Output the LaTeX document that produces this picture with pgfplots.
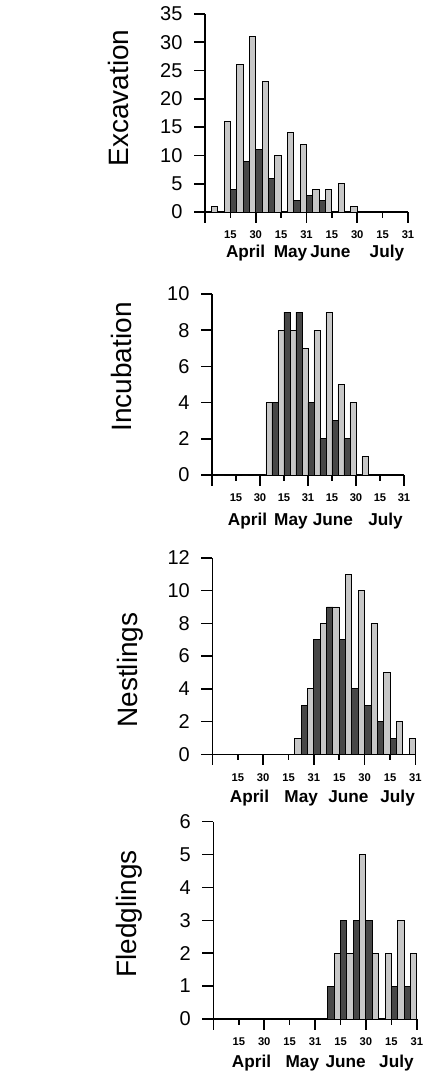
\documentclass[border=0pt]{standalone}
\usepackage{fontspec}
\setmainfont{Liberation Sans}
\usepackage{pgfplots}
\usepackage{pgfplotstable}
\pgfplotsset{compat=1.18}

% k = week slot (two per half month), L = light bars, D = dark bars
\pgfplotstableread{
k L D
0 1 0
1 16 4
2 26 9
3 31 11
4 23 6
5 10 0
6 14 2
7 12 3
8 4 2
9 4 0
10 5 0
11 1 0
}\excav

\pgfplotstableread{
k L D
0 0 0
1 0 0
2 0 0
3 0 0
4 4 4
5 8 9
6 8 9
7 7 4
8 8 2
9 9 3
10 5 2
11 4 0
12 1 0
}\incub

\pgfplotstableread{
k L D
0 0 0
1 0 0
2 0 0
3 0 0
4 0 0
5 0 0
6 1 3
7 4 7
8 8 9
9 9 7
10 11 4
11 10 3
12 8 2
13 5 1
14 2 0
15 1 nan
}\nestl

\pgfplotstableread{
k L D
0 0 0
1 0 0
2 0 0
3 0 0
4 0 0
5 0 0
6 0 0
7 0 0
8 0 1
9 2 3
10 2 3
11 5 3
12 2 0
13 2 1
14 3 1
15 2 nan
}\fledg

\pgfplotsset{
  panel/.style={
    scale only axis, clip=false,
    xmin=0, xmax=8, ymin=0,
    axis lines*=left,
    axis line style={line width=0.9pt},
    tick style={black, line width=0.8pt},
    tick align=outside,
    major tick length=2.75pt,
    ytick style={/pgfplots/major tick length=5.5pt},
    xtick={0,...,8},
    xticklabels={,15,30,15,31,15,30,15,31},
    extra x ticks={0,2,4,6,8},
    extra x tick labels={},
    extra x tick style={/pgfplots/major tick length=5.25pt},
    xticklabel style={font=\bfseries\fontsize{5.6}{6}\selectfont, yshift=-3.2pt},
    yticklabel style={font=\fontsize{10}{12}\selectfont, xshift=-5pt},
    /pgf/number format/assume math mode=true,
    ybar, bar width=0.25,
  },
  lightbar/.style={fill=black!22, draw=black, line width=0.45pt, bar shift=0pt},
  darkbar/.style={fill=black!72, draw=black, line width=0.45pt, bar shift=0pt},
}
\tikzset{mon/.style={anchor=base, font=\bfseries\fontsize{8.6}{10}\selectfont}}

% #1 = drop below the x axis, #2-#5 = centres of the month names
\newcommand\months[5]{%
  \node[mon, yshift=-#1] at (axis cs:#2,0) {April};
  \node[mon, yshift=-#1] at (axis cs:#3,0) {May};
  \node[mon, yshift=-#1] at (axis cs:#4,0) {June};
  \node[mon, yshift=-#1] at (axis cs:#5,0) {July};
}

\begin{document}
\begin{tikzpicture}
\path[use as bounding box] (0,0) rectangle (211.5pt,-536pt);

\begin{axis}[panel, at={(102.5pt,-106pt)}, width=101.5pt, height=99pt,
  ymax=35, ytick={0,5,...,35}]
\addplot[lightbar] table[x expr=0.5*\thisrow{k}+0.375, y=L] {\excav};
\addplot[darkbar] table[x expr=0.5*\thisrow{k}+0.625, y=D] {\excav};
\months{22.5pt}{1.6}{3.37}{4.94}{7.17}
\end{axis}

\begin{axis}[panel, at={(106pt,-237.5pt)}, width=96pt, height=90.5pt,
  ymax=10, ytick={0,2,...,10}]
\addplot[lightbar] table[x expr=0.5*\thisrow{k}+0.375, y=L] {\incub};
\addplot[darkbar] table[x expr=0.5*\thisrow{k}+0.625, y=D] {\incub};
\months{25pt}{1.48}{3.29}{5.04}{7.23}
\end{axis}

\begin{axis}[panel, at={(106.2pt,-377.2pt)}, width=101.5pt, height=98.3pt,
  ymax=12, ytick={0,2,...,12}]
\addplot[lightbar] table[x expr=0.5*\thisrow{k}+0.375, y=L] {\nestl};
\addplot[darkbar] table[x expr=0.5*\thisrow{k}+0.625, y=D] {\nestl};
\months{24pt}{1.46}{3.5}{5.36}{7.3}
\end{axis}

\begin{axis}[panel, at={(106.7pt,-509.5pt)}, width=101.7pt, height=98.7pt,
  ymax=6, ytick={0,...,6}]
\addplot[lightbar] table[x expr=0.5*\thisrow{k}+0.375, y=L] {\fledg};
\addplot[darkbar] table[x expr=0.5*\thisrow{k}+0.625, y=D] {\fledg};
\months{24pt}{1.5}{3.5}{5.2}{7.2}
\end{axis}

\node[rotate=90, anchor=base, font=\fontsize{14}{16}\selectfont] at (64.2pt,-49pt) {Excavation};
\node[rotate=90, anchor=base, font=\fontsize{14}{16}\selectfont] at (65.8pt,-183.5pt) {Incubation};
\node[rotate=90, anchor=base, font=\fontsize{14}{16}\selectfont] at (68.8pt,-335pt) {Nestlings};
\node[rotate=90, anchor=base, font=\fontsize{14}{16}\selectfont] at (68.4pt,-457pt) {Fledglings};
\end{tikzpicture}
\end{document}
